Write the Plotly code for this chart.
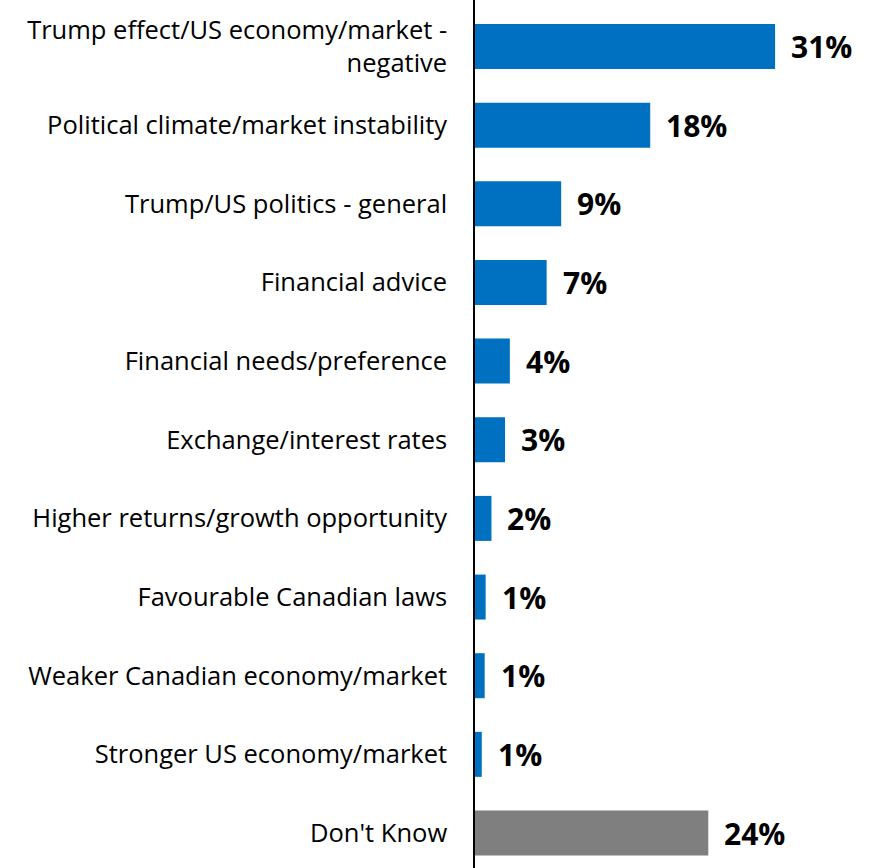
import plotly.graph_objects as go

categories = [
    "Trump effect/US economy/market -<br>negative",
    "Political climate/market instability",
    "Trump/US politics - general",
    "Financial advice",
    "Financial needs/preference",
    "Exchange/interest rates",
    "Higher returns/growth opportunity",
    "Favourable Canadian laws",
    "Weaker Canadian economy/market",
    "Stronger US economy/market",
    "Don't Know",
]
values = [31.0, 18.1, 8.9, 7.4, 3.6, 3.1, 1.7, 1.1, 1.0, 0.7, 24.1]
value_labels = ["31%", "18%", "9%", "7%", "4%", "3%", "2%", "1%", "1%", "1%", "24%"]
colors = ["#0070C0"] * 10 + ["#7F7F7F"]

FONT = "Open Sans"

fig = go.Figure()
fig.add_trace(go.Bar(
    x=values,
    y=categories,
    orientation="h",
    marker=dict(color=colors, line=dict(width=0)),
    width=0.572,
    hoverinfo="skip",
))

for cat, v, lab in zip(categories, values, value_labels):
    fig.add_annotation(
        x=v, y=cat, text="<b>%s</b>" % lab, showarrow=False,
        xanchor="left", yanchor="middle", xshift=14,
        font=dict(family=FONT, size=30, color="#000000"),
    )

fig.update_layout(
    width=869, height=868,
    margin=dict(l=475, r=0, t=0, b=0),
    paper_bgcolor="white", plot_bgcolor="white",
    showlegend=False,
    font=dict(family=FONT, size=25.5, color="#000000"),
    xaxis=dict(range=[0, 40.7], visible=False, showgrid=False, zeroline=False),
    yaxis=dict(
        type="category",
        categoryorder="array", categoryarray=categories,
        range=[10.445, -0.591],
        showline=True, linecolor="#000000", linewidth=1.5,
        showgrid=False, zeroline=False,
        ticks="", ticklabelstandoff=21,
        tickfont=dict(family=FONT, size=25.5, color="#000000"),
    ),
)

fig.write_html("out.html", config={"displayModeBar": False},
               post_script="document.body.style.margin='0';")
